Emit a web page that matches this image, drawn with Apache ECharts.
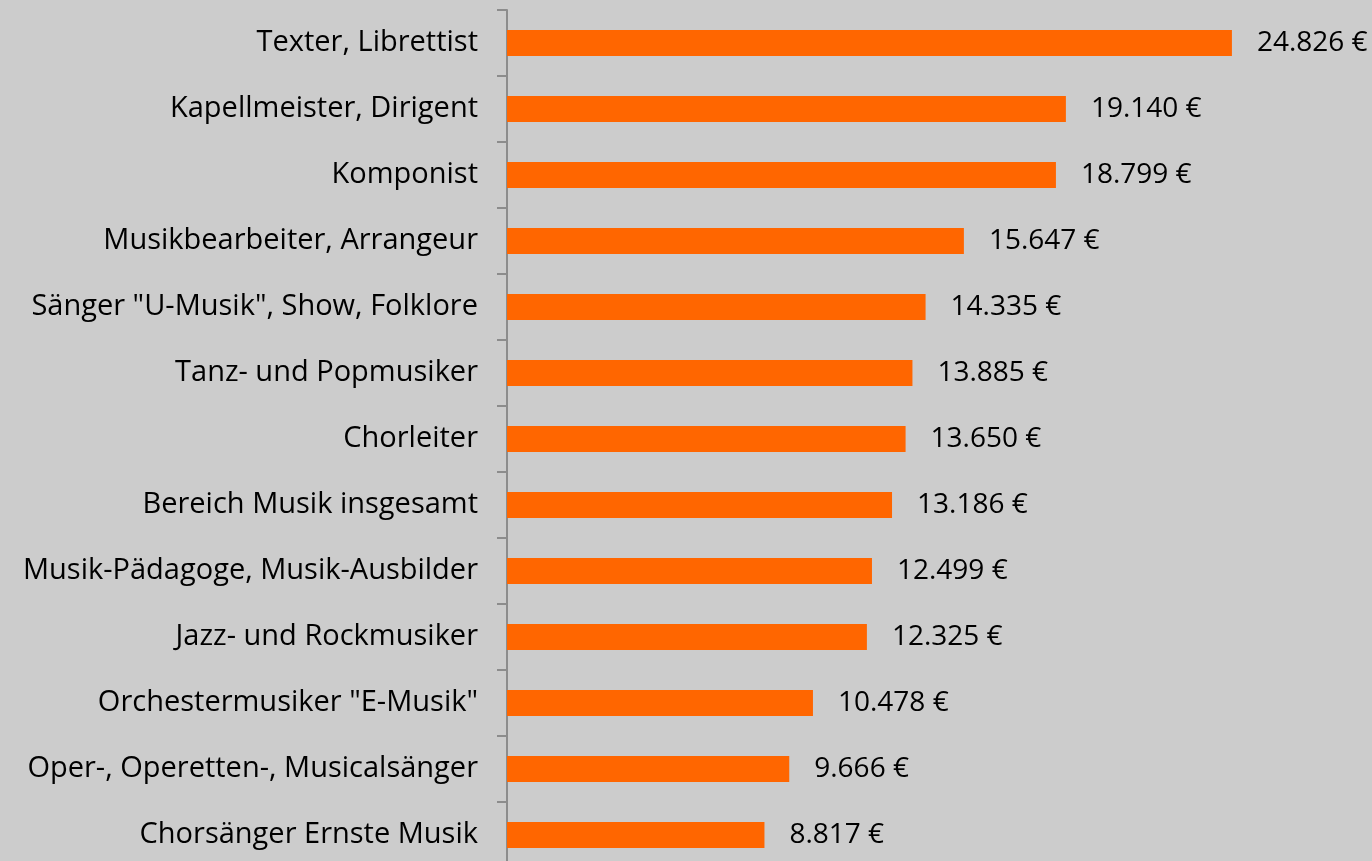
<!DOCTYPE html>
<html><head><meta charset="utf-8">
<script src="https://cdn.jsdelivr.net/npm/echarts@6/dist/echarts.min.js"></script>
<style>html,body{margin:0;padding:0;background:#cccccc;overflow:hidden;}#c{width:1372px;height:870px;}</style>
</head><body><div id="c"></div>
<script>
const categories = ["Texter, Librettist","Kapellmeister, Dirigent","Komponist","Musikbearbeiter, Arrangeur","Sänger \"U-Musik\", Show, Folklore","Tanz- und Popmusiker","Chorleiter","Bereich Musik insgesamt","Musik-Pädagoge, Musik-Ausbilder","Jazz- und Rockmusiker","Orchestermusiker \"E-Musik\"","Oper-, Operetten-, Musicalsänger","Chorsänger Ernste Musik"];
const values = [24826,19140,18799,15647,14335,13885,13650,13186,12499,12325,10478,9666,8817];
const fmt = v => String(v).replace(/\B(?=(\d{3})+(?!\d))/g, '.') + ' €';
const chart = echarts.init(document.getElementById('c'));
chart.setOption({
  backgroundColor: '#cccccc',
  animation: false,
  grid: {left: 507, top: 10, width: 730, height: 858},
  xAxis: {type: 'value', min: 0, max: 25000, show: false},
  yAxis: {type: 'category', data: categories, inverse: true,
    axisLine: {lineStyle: {color: '#8c8c8c', width: 2}},
    axisTick: {show: true, length: 10, lineStyle: {color: '#8c8c8c', width: 2}},
    axisLabel: {color: '#000', fontSize: 29, fontFamily: 'Open Sans', margin: 29}
  },
  series: [{type: 'bar', data: values, barWidth: 26,
    itemStyle: {color: '#ff6600'},
    label: {show: true, position: 'right', distance: 25, color: '#000', fontSize: 28, fontFamily: 'Open Sans', formatter: p => fmt(p.value)}
  }]
});
</script></body></html>
